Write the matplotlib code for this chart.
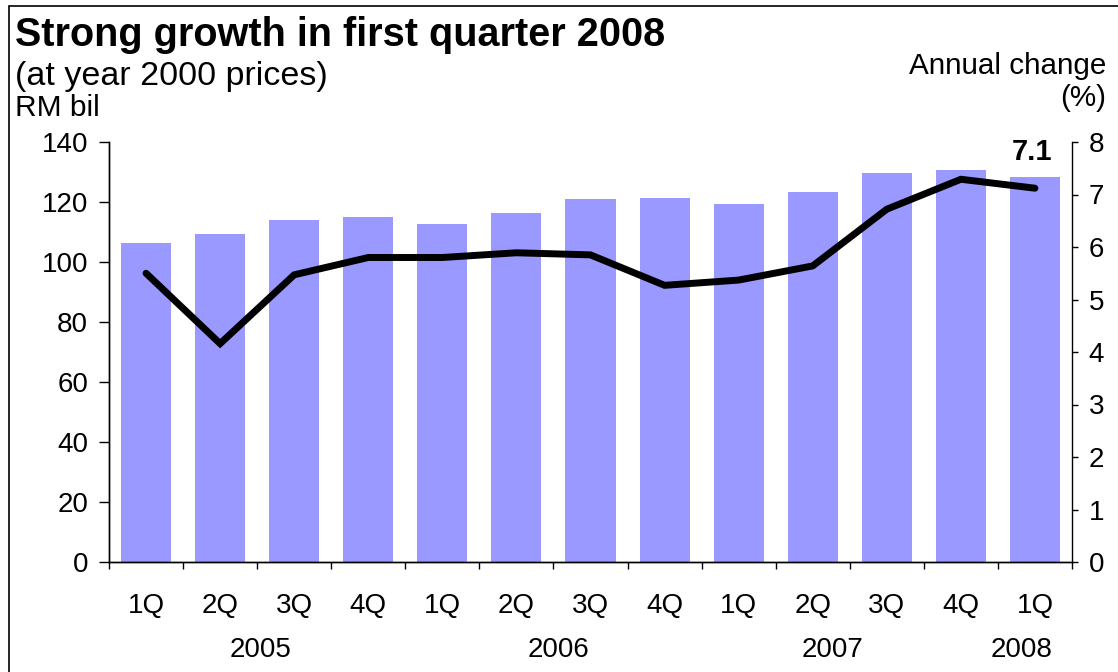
#!/usr/bin/env python3
"""GDP at year 2000 prices (RM bil) with annual change line, 1Q2005-1Q2008."""
import matplotlib
matplotlib.use("Agg")
import matplotlib.pyplot as plt
from matplotlib.patches import Rectangle
from matplotlib.transforms import blended_transform_factory

plt.rcParams["font.family"] = ["Liberation Sans", "DejaVu Sans"]

QUARTERS = ["1Q", "2Q", "3Q", "4Q", "1Q", "2Q", "3Q", "4Q",
            "1Q", "2Q", "3Q", "4Q", "1Q"]
YEARS = ["2005", "2006", "2007", "2008"]
YEAR_POS = [1.54, 5.57, 9.27, 11.82]   # where the year labels sit, in bar units
GDP = [106.4, 109.4, 114.1, 115.1, 112.8, 116.4, 121.1,
       121.4, 119.4, 123.4, 129.8, 130.8, 128.4]   # RM bil
GROWTH = [5.50, 4.16, 5.47, 5.80, 5.80, 5.89, 5.85,
          5.27, 5.37, 5.64, 6.72, 7.29, 7.12]      # annual change, %
LAST_LABEL = "7.1"

W, H = 1118, 672
fig = plt.figure(figsize=(W / 100, H / 100), dpi=100)
ax = fig.add_axes([109 / W, 1 - 562 / H, (1072 - 109) / W, (562 - 142) / H])
ax2 = ax.twinx()

x = list(range(len(GDP)))
ax.bar(x, GDP, width=0.675, color="#9999ff", zorder=2)
ax.set_xlim(-0.5, len(GDP) - 0.5)
ax.set_ylim(0, 140)
ax.set_yticks(range(0, 141, 20))

# ticks between the categories, labels in the middle
ax.set_xticks([i - 0.5 for i in range(len(GDP) + 1)])
ax.set_xticklabels([])
ax.set_xticks(x, minor=True)
ax.set_xticklabels(QUARTERS, minor=True)
ax.tick_params(axis="x", which="major", direction="out", length=5, width=1)
ax.tick_params(axis="x", which="minor", length=0, pad=22, labelsize=20)
ax.tick_params(axis="y", direction="out", length=7, width=1, labelsize=20, pad=8)

ax2.plot(x, GROWTH, color="black", linewidth=5, solid_joinstyle="miter",
         solid_capstyle="round", zorder=3)
ax2.set_ylim(0, 8)
ax2.set_yticks(range(0, 9))
ax2.tick_params(axis="y", direction="out", length=4, width=1, labelsize=20, pad=8)
ax2.annotate(LAST_LABEL, (x[-1], GROWTH[-1]), xytext=(-2, 26),
             textcoords="offset points", ha="center", va="center",
             fontsize=21, fontweight="bold")

for a in (ax, ax2):
    a.spines["top"].set_visible(False)
    for s in ("left", "right", "bottom"):
        a.spines[s].set_linewidth(1)
ax.spines["right"].set_visible(False)

trans = blended_transform_factory(ax.transData, fig.transFigure)
for yr, pos in zip(YEARS, YEAR_POS):
    ax.text(pos, 1 - 650 / H, yr, transform=trans, ha="center", va="center",
            fontsize=20)

fig.text(15 / W, 1 - 35 / H, "Strong growth in first quarter 2008",
         fontsize=28.5, fontweight="bold", va="center", ha="left")
fig.text(15 / W, 1 - 77 / H, "(at year 2000 prices)", fontsize=24.5,
         va="center", ha="left")
fig.text(15 / W, 1 - 108 / H, "RM bil", fontsize=21.5, va="center", ha="left")
fig.text(1106 / W, 1 - 66 / H, "Annual change", fontsize=21.3, va="center",
         ha="right")
fig.text(1106 / W, 1 - 98 / H, "(%)", fontsize=21.3, va="center", ha="right")

# outer frame, only top and left edges fall inside the picture
fig.add_artist(Rectangle((9 / W, -0.1), 1.2, 1.1 - 6 / H, transform=fig.transFigure,
                         fill=False, edgecolor="black", linewidth=1.2))

fig.savefig("out.png", dpi=100)
